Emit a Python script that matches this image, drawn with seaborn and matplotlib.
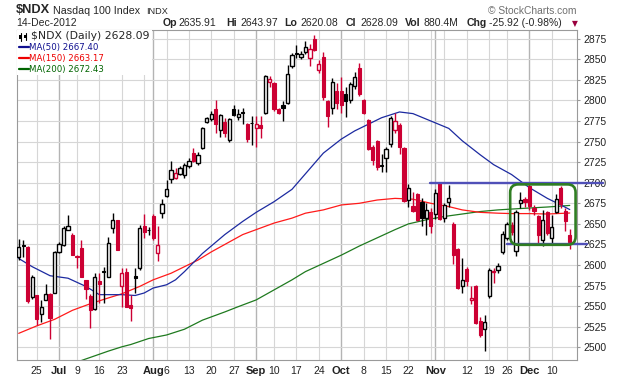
import matplotlib
matplotlib.use("Agg")
import matplotlib.pyplot as plt
import matplotlib.transforms as mtransforms
from matplotlib.patches import Rectangle, FancyBboxPatch
from matplotlib.lines import Line2D
import seaborn as sns
import pandas as pd
import numpy as np

# ---- trading calendar (Jun 19 - Dec 14, 2012) ----
holidays = ["2012-07-04", "2012-09-03", "2012-10-29", "2012-10-30", "2012-11-22"]
dates = pd.bdate_range("2012-06-19", "2012-12-14")
dates = dates[~dates.isin(pd.to_datetime(holidays))]

# ---- daily OHLC ----
opens = [2610, 2624, 2622, 2561, 2563, 2541, 2558, 2565, 2566,
         2616, 2624, 2643, 2637, 2611, 2621, 2582, 2562, 2546, 2581, 2593, 2586, 2645, 2655,
         2575, 2592, 2551, 2587, 2597, 2648, 2643,
         2659, 2615, 2663, 2684, 2705, 2706, 2711, 2709, 2720, 2736, 2724, 2742, 2774, 2777,
         2790, 2764, 2774, 2752, 2790, 2780, 2786, 2771, 2773,
         2767, 2770, 2785, 2823, 2821, 2789, 2794, 2797, 2842, 2858, 2852.6, 2859, 2852, 2875,
         2837, 2853, 2799, 2791, 2812,
         2812, 2808, 2800, 2818, 2840, 2801, 2776, 2743, 2751, 2721, 2730, 2747, 2764, 2770,
         2742, 2679, 2671.5, 2686, 2676.8, 2657.7, 2664.6,
         2662, 2700, 2657.7, 2677, 2650.4, 2620, 2574, 2595, 2558, 2574, 2532, 2522, 2562,
         2591, 2594.5, 2616, 2633, 2649, 2617, 2675.6, 2680,
         2696, 2669.5, 2659, 2630, 2665, 2633, 2665, 2693, 2666, 2635.91]
highs = [2632, 2631, 2623, 2588, 2564, 2558, 2577, 2566, 2617,
         2628, 2647, 2661, 2639, 2612, 2631, 2582, 2565, 2590, 2590, 2598, 2634, 2663, 2655,
         2596, 2597, 2563, 2597, 2649, 2662, 2646,
         2662, 2648, 2680, 2703, 2726, 2718, 2720, 2724, 2730, 2742, 2737, 2768, 2780, 2787,
         2801, 2784, 2779, 2779, 2794, 2789, 2791, 2773, 2781,
         2781, 2781, 2831.5, 2830, 2822.5, 2791, 2799, 2843, 2858, 2867, 2860, 2872, 2868, 2879,
         2848.6, 2859, 2800, 2827.6, 2821,
         2828, 2816, 2823, 2834, 2846, 2802, 2778, 2746, 2752, 2735, 2744, 2781, 2785, 2772,
         2743, 2699, 2689, 2687, 2681, 2675, 2668.7,
         2692, 2700.5, 2675, 2697, 2652.4, 2621, 2608, 2598, 2574, 2576, 2537, 2539, 2596,
         2597, 2602, 2641, 2652, 2652, 2667, 2688.6, 2683,
         2699, 2673, 2661, 2667, 2666, 2661, 2686, 2696, 2669.5, 2643.97]
lows = [2606, 2610, 2554, 2559, 2527, 2531, 2557, 2510, 2566,
        2615, 2623, 2643, 2612, 2596, 2586, 2559, 2523, 2545, 2554, 2554, 2585, 2639, 2618,
        2549, 2549, 2532, 2566, 2594, 2633, 2637,
        2630, 2605, 2657, 2683, 2700, 2704, 2709, 2706, 2718, 2725, 2722, 2741, 2772, 2775,
        2761, 2756, 2755, 2749, 2781, 2776, 2771, 2750, 2746,
        2744, 2754, 2783.5, 2816, 2787.5, 2784, 2775, 2796, 2839, 2852, 2850, 2856, 2842, 2860,
        2833.5, 2801, 2768, 2784, 2789,
        2785, 2780, 2797, 2814, 2805, 2783, 2740, 2722, 2716, 2713, 2713, 2743, 2760, 2735,
        2677, 2671, 2664.6, 2653.6, 2648, 2637, 2639,
        2656.5, 2655, 2652, 2670, 2601.6, 2571, 2566, 2574, 2553, 2528, 2512, 2495, 2560,
        2578, 2590, 2613, 2630, 2636, 2611, 2669.5, 2670,
        2667, 2661, 2627, 2623, 2636, 2627, 2663, 2669.5, 2641, 2620.08]
closes = [2622, 2623, 2556, 2586, 2534, 2549, 2565, 2536, 2616,
          2625, 2645, 2647, 2612, 2610, 2586, 2571, 2545, 2585, 2577, 2592, 2627, 2655, 2618,
          2590, 2549, 2548, 2584, 2645, 2640, 2642,
          2633, 2624, 2674, 2692, 2715, 2712, 2718, 2722, 2727, 2726, 2734, 2767, 2779, 2783,
          2771, 2782, 2761, 2777, 2782, 2784, 2785, 2753, 2772,
          2771.5, 2766.5, 2829.5, 2826, 2789, 2785, 2791, 2832, 2855, 2856, 2856.7, 2865, 2862, 2861,
          2844.5, 2804, 2781.5, 2822.6, 2797,
          2794, 2799, 2820, 2828, 2808, 2785, 2741, 2728, 2719, 2720, 2741, 2778.5, 2775.5, 2744,
          2678, 2694, 2666, 2654.5, 2657.3, 2666.7, 2647.6,
          2687, 2656.5, 2672.8, 2681, 2612.6, 2572.4, 2582, 2580, 2560.5, 2529, 2515, 2531, 2594,
          2593, 2599, 2638, 2650, 2640, 2665, 2678.5, 2677,
          2671.5, 2666, 2637, 2655, 2639, 2646, 2680.5, 2673.6, 2654.01, 2628.09]

# ---- moving averages ----
ma50_dates = ["2012-06-19", "2012-06-22", "2012-06-28", "2012-07-05", "2012-07-11", "2012-07-16",
              "2012-07-23", "2012-07-26", "2012-07-30", "2012-08-01", "2012-08-06", "2012-08-08",
              "2012-08-10", "2012-08-16", "2012-08-23", "2012-08-29", "2012-09-04", "2012-09-10",
              "2012-09-14", "2012-09-25", "2012-10-01", "2012-10-04", "2012-10-09", "2012-10-12",
              "2012-10-18", "2012-10-23", "2012-10-31", "2012-11-06", "2012-11-09", "2012-11-15",
              "2012-11-20", "2012-11-27", "2012-12-03", "2012-12-07", "2012-12-12", "2012-12-14"]
ma50_vals = [2608, 2598, 2587, 2584, 2574, 2564, 2564, 2563, 2566, 2572, 2576, 2582,
             2592, 2614, 2637, 2653, 2664, 2677, 2692, 2736, 2753, 2763, 2771, 2779,
             2786, 2784, 2775, 2766, 2751, 2734, 2722, 2710, 2694, 2681, 2673, 2667.4]

ma150_dates = ["2012-06-19", "2012-06-25", "2012-06-29", "2012-07-06", "2012-07-12", "2012-07-18",
               "2012-07-23", "2012-07-27", "2012-08-01", "2012-08-07", "2012-08-10", "2012-08-15",
               "2012-08-20", "2012-08-23", "2012-08-29", "2012-09-04", "2012-09-10", "2012-09-14",
               "2012-09-19", "2012-09-25", "2012-10-01", "2012-10-05", "2012-10-11", "2012-10-17",
               "2012-10-23", "2012-10-31", "2012-11-06", "2012-11-09", "2012-11-15", "2012-11-21",
               "2012-11-27", "2012-12-03", "2012-12-07", "2012-12-14"]
ma150_vals = [2517, 2526, 2534, 2545, 2553, 2560, 2565, 2574, 2582, 2590, 2598, 2606,
              2616, 2625, 2637, 2643, 2651, 2657, 2663, 2667, 2673, 2675, 2679, 2681,
              2680, 2675, 2671, 2667, 2664, 2663, 2662.5, 2662.5, 2662, 2663.2]

ma200_dates = ["2012-07-10", "2012-07-18", "2012-07-23", "2012-07-25", "2012-07-31", "2012-08-06",
               "2012-08-10", "2012-08-16", "2012-08-23", "2012-08-28", "2012-09-04", "2012-09-10",
               "2012-09-14", "2012-09-19", "2012-09-25", "2012-10-01", "2012-10-05", "2012-10-11",
               "2012-10-17", "2012-10-22", "2012-10-26", "2012-11-05", "2012-11-09", "2012-11-15",
               "2012-11-21", "2012-11-27", "2012-12-03", "2012-12-07", "2012-12-14"]
ma200_vals = [2484, 2495.4, 2500.6, 2503.4, 2510.7, 2515, 2522, 2533, 2543, 2549.4, 2557.6, 2569.8,
              2582, 2592, 2602, 2612, 2623, 2633, 2643, 2650, 2655, 2659, 2662, 2665,
              2667, 2668, 2669.3, 2670.5, 2672.4]

# ---- x axis labels ----
tick_dates = ["2012-06-25", "2012-07-02", "2012-07-09", "2012-07-16", "2012-07-23", "2012-08-01",
              "2012-08-06", "2012-08-13", "2012-08-20", "2012-08-27", "2012-09-04", "2012-09-10",
              "2012-09-17", "2012-09-24", "2012-10-01", "2012-10-08", "2012-10-15", "2012-10-22",
              "2012-11-01", "2012-11-12", "2012-11-19", "2012-11-26", "2012-12-03", "2012-12-10"]
tick_labels = ["25", "Jul", "9", "16", "23", "Aug", "6", "13", "20", "27", "Sep", "10",
               "17", "24", "Oct", "8", "15", "22", "Nov", "12", "19", "26", "Dec", "10"]
months = {"Jul", "Aug", "Sep", "Oct", "Nov", "Dec"}

# annotation levels
resistance, resistance_start = 2700, "2012-10-31"
support, support_start = 2625, "2012-11-26"

RED = "#cc0033"
BLACK = "#000000"
C50, C150, C200 = "#1c2aa0", "#ff1a1a", "#1f7a1f"

sns.set_style("white")
plt.rcParams["font.family"] = ["Liberation Sans", "DejaVu Sans"]

W, H = 620, 376
fig = plt.figure(figsize=(W / 100, H / 100), dpi=100)
fig.patch.set_facecolor("white")
ax = fig.add_axes([16.7 / W, 16 / H, 560 / W, 330 / H])
ax.set_xlim(-0.45, 124.55)
ax.set_ylim(2484.6, 2885.6)


def pos(ds):
    return dates.get_indexer(pd.to_datetime(ds))


# grid
ax.set_yticks(range(2500, 2876, 25))
ax.yaxis.grid(True, color="#d6d6d6", lw=0.8, zorder=0)
week = dates.isocalendar().week.values
month = dates.month.values
for i in range(1, len(dates)):
    if month[i] != month[i - 1]:
        ax.axvline(i, color="#b4b4b4", lw=1.0, zorder=0)
    elif week[i] != week[i - 1]:
        ax.axvline(i, color="#d6d6d6", lw=0.8, zorder=0)

# candles
x = np.arange(len(dates))
o, h, l, c = map(np.asarray, (opens, highs, lows, closes))
prev = np.r_[-np.inf, c[:-1]]
col = np.where(c < prev, RED, BLACK)
hollow = c > o
ax.vlines(x, l, h, colors=col, lw=1.0, zorder=3)
ax.bar(x[hollow], (c - o)[hollow], bottom=o[hollow], width=0.72, facecolor="white",
       edgecolor=col[hollow], lw=1.0, zorder=4)
ax.bar(x[~hollow], (o - c)[~hollow], bottom=c[~hollow], width=0.72, facecolor=col[~hollow],
       edgecolor=col[~hollow], lw=0.8, zorder=4)

# moving averages
for ds, vals, colr in [(ma200_dates, ma200_vals, C200), (ma150_dates, ma150_vals, C150),
                       (ma50_dates, ma50_vals, C50)]:
    df = pd.DataFrame({"pos": pos(ds), "value": vals})
    sns.lineplot(data=df, x="pos", y="value", color=colr, lw=0.9, estimator=None,
                 ax=ax, zorder=2)

# annotations
blend = mtransforms.blended_transform_factory(ax.transAxes, ax.transData)
xa = ax.transLimits.transform((pos([resistance_start])[0] - 0.2, resistance))[0]
ax.add_line(Line2D([xa, 1.047], [resistance, resistance], transform=blend, color="#5050b8",
                   lw=1.7, clip_on=False, zorder=6))
xs = ax.transLimits.transform((pos([support_start])[0], support))[0]
ax.add_line(Line2D([xs, 1.019], [support, support], transform=blend, color="#5050b8",
                   lw=1.7, clip_on=False, zorder=6))
box = FancyBboxPatch((109.7, 2624.6), 124.3 - 109.7, 2698 - 2624.6,
                     boxstyle="round,pad=0,rounding_size=1.8", mutation_aspect=5.43,
                     facecolor="none", edgecolor="#2f7d22", lw=1.9, clip_on=False, zorder=7)
ax.add_patch(box)

# axes styling
ax.set_xlabel("")
ax.set_ylabel("")
ax.yaxis.tick_right()
ax.tick_params(axis="y", length=2, pad=3, color="#999999", labelsize=7.5, labelcolor="#222222",
               right=True, left=False)
ax.set_xticks(pos(tick_dates))
ax.set_xticklabels(tick_labels)
ax.tick_params(axis="x", length=0, pad=4, labelsize=7.5, labelcolor="#222222")
for t in ax.get_xticklabels():
    if t.get_text() in months:
        t.set_fontweight("bold")
        t.set_fontsize(8)
for s in ax.spines.values():
    s.set_color("#9a9a9a")
    s.set_linewidth(0.8)

# legend box
ax.add_patch(Rectangle((0, 1 - 45 / 330), 135 / 560, 45 / 330, transform=ax.transAxes,
                       facecolor="white", edgecolor="none", zorder=8))


def fx(px):
    return px / W


def fy(py):
    return 1 - py / H


# candlestick icon
for cx, y0, y1, b0, b1 in [(20.5, 32.5, 40.5, 34.5, 38.5), (25.5, 33.0, 40.0, 35.0, 37.5)]:
    fig.add_artist(Line2D([fx(cx), fx(cx)], [fy(y0), fy(y1)], color="black", lw=0.8, zorder=9))
    fig.add_artist(Rectangle((fx(cx - 1.3), fy(b1)), 2.6 / W, (b1 - b0) / H,
                             facecolor="black", edgecolor="none", zorder=9))
fig.text(fx(31), fy(36), "$NDX (Daily) 2628.09", fontsize=7.8, family="DejaVu Sans",
         va="center", zorder=10)
for yy, txt, colr in [(47.3, "MA(50) 2667.40", "#101090"), (58.3, "MA(150) 2663.17", "#ee0000"),
                      (69.3, "MA(200) 2672.43", "#006400")]:
    fig.add_artist(Line2D([fx(19), fx(28.5)], [fy(yy), fy(yy)], color=colr, lw=1.6, zorder=9))
    fig.text(fx(29.5), fy(yy), txt, fontsize=6.2, family="DejaVu Sans", color=colr,
             va="center", zorder=10)

# header
fig.text(fx(16), fy(10), "$NDX", fontsize=9.2, fontweight="bold", va="center")
fig.text(fx(53), fy(10.5), "Nasdaq 100 Index", fontsize=7.7, va="center")
fig.text(fx(146), fy(11), "INDX", fontsize=6.6, va="center")
fig.text(fx(16), fy(23.5), "14-Dec-2012", fontsize=7.5, va="center")
fig.text(fx(576), fy(10.5), "\u00a9 StockCharts.com", fontsize=7.4, color="#707070",
         ha="right", va="center")
for px_, txt, bold in [(163, "Op", True), (178, "2635.91", False), (226, "Hi", True),
                       (240, "2643.97", False), (284, "Lo", True), (300, "2620.08", False),
                       (346, "Cl", True), (360, "2628.09", False), (405, "Vol", True),
                       (424, "880.4M", False), (467, "Chg", True), (489, "-25.92 (-0.98%)", False)]:
    fig.text(fx(px_), fy(23.5), txt, fontsize=7.6 if bold else 7.5,
             fontweight="bold" if bold else "normal", va="center")
fig.text(fx(575), fy(23.5), "\u25bc", fontsize=5.5, color="#99003d", family="DejaVu Sans",
         ha="center", va="center")

fig.savefig("out.png", dpi=100)
